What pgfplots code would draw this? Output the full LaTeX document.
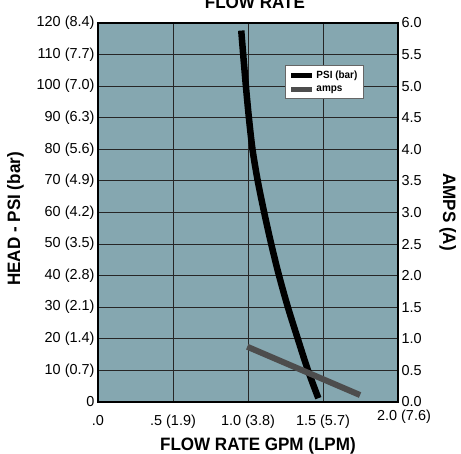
\documentclass[border=0pt]{standalone}
\usepackage{fontspec}
\setmainfont{Liberation Sans}
\newfontfamily\condfont[FakeStretch=0.95]{Liberation Sans}
\usepackage{pgfplots}
\pgfplotsset{compat=1.18}

\definecolor{plotbg}{RGB}{133,167,176}
\definecolor{ampgray}{RGB}{77,77,77}
\newcommand{\labfont}{\condfont\bfseries\fontsize{18}{20}\selectfont}

\begin{document}
\begin{tikzpicture}
\useasboundingbox (0,0) rectangle (461bp,454bp);

% left axis: head
\begin{axis}[
    at={(98bp,52bp)}, anchor=south west,
    width=300bp, height=379bp, scale only axis,
    xmin=0, xmax=2, ymin=0, ymax=120,
    axis background/.style={fill=plotbg},
    xtick={0,0.5,1,1.5,2},
    xticklabels={.0, .5 (1.9), 1.0 (3.8), 1.5 (5.7),
                 {\hspace*{12bp}\raisebox{5bp}[\height][\depth]{2.0 (7.6)}}},
    ytick={0,10,...,120},
    yticklabels={0, 10 (0.7), 20 (1.4), 30 (2.1), 40 (2.8), 50 (3.5), 60 (4.2),
                 70 (4.9), 80 (5.6), 90 (6.3), 100 (7.0), 110 (7.7), 120 (8.4)},
    major tick length=0pt,
    grid=major,
    major grid style={black!85, line width=0.9bp},
    axis line style={black, line width=1.6bp},
    ticklabel style={font=\fontsize{14.5}{16}\selectfont},
    xticklabel style={yshift=-10bp},
    xlabel={FLOW RATE GPM (LPM)},
    xlabel style={at={(rel axis cs:0.533,-0.128)}, anchor=base, font=\labfont},
    ylabel={HEAD - PSI (bar)},
    ylabel style={at={(rel axis cs:-0.26,0.483)}, anchor=base, rotate=0, font=\labfont},
    title={FLOW RATE},
    title style={at={(rel axis cs:0.523,1.022)}, anchor=base, font=\labfont},
]
\addplot[black, line width=6.5bp, smooth] coordinates {
    (0.955,117.6) (0.968,110) (0.986,100) (1.006,90) (1.030,80) (1.065,70)
    (1.108,60) (1.155,50) (1.207,40) (1.266,30) (1.332,20) (1.400,10) (1.469,1.2)
};
\end{axis}

% right axis: amps
\begin{axis}[
    at={(98bp,52bp)}, anchor=south west,
    width=300bp, height=379bp, scale only axis,
    xmin=0, xmax=2, ymin=0, ymax=6,
    axis x line=none,
    axis y line*=right,
    axis line style={black, line width=1.6bp, -},
    ytick={0,0.5,...,6},
    yticklabels={0.0,0.5,1.0,1.5,2.0,2.5,3.0,3.5,4.0,4.5,5.0,5.5,6.0},
    major tick length=0pt,
    ticklabel style={font=\fontsize{14.5}{16}\selectfont},
    ylabel={AMPS (A)},
    ylabel style={at={(rel axis cs:1.15,0.501)}, anchor=base, rotate=180, font=\labfont},
    legend style={at={(rel axis cs:0.623,0.889)}, anchor=north west,
        draw=black!60, fill=white, line width=0.6bp,
        font=\condfont\bfseries\fontsize{10.5}{12}\selectfont,
        inner xsep=4bp, inner ysep=3.5bp, row sep=2bp},
    legend cell align=left,
    legend image code/.code={\draw[#1, line width=4.3bp] (0bp,0bp) -- (21bp,0bp);},
]
\addlegendimage{black}
\addlegendentry{PSI (bar)}
\addplot[ampgray, line width=6bp] coordinates {(0.995,0.875) (1.747,0.11)};
\addlegendentry{amps}
\end{axis}
\end{tikzpicture}
\end{document}
